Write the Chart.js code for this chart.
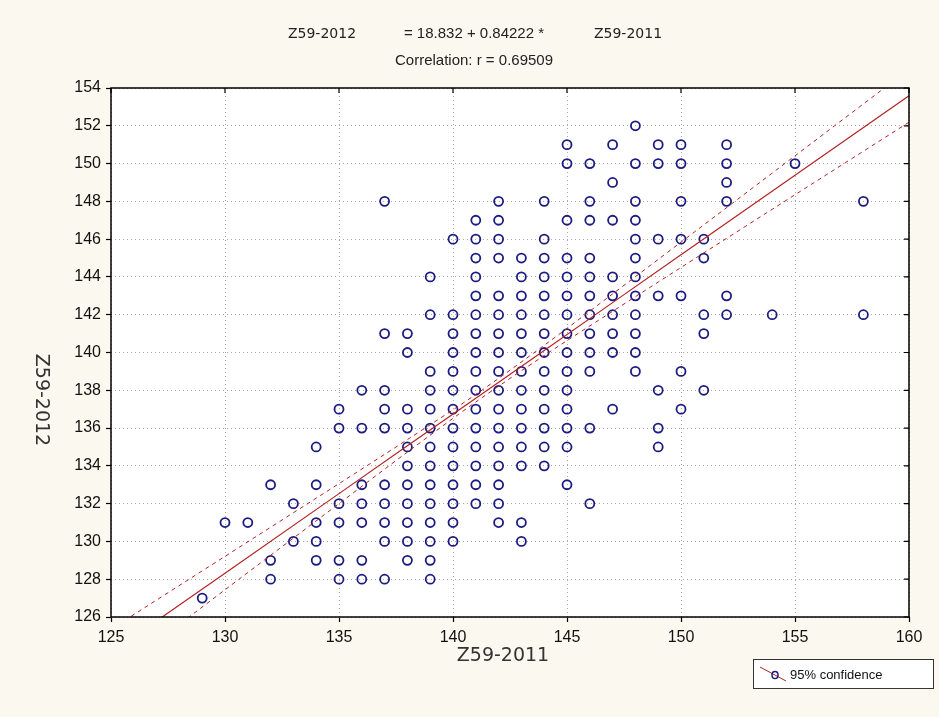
<!DOCTYPE html>
<html>
<head>
<meta charset="utf-8">
<script src="https://cdn.jsdelivr.net/npm/chart.js@4.4.1/dist/chart.umd.min.js"></script>
<style>
  html, body { margin: 0; padding: 0; background: #fbf9ef; }
  #wrap { width: 939px; height: 717px; }
</style>
</head>
<body>
<div id="wrap"><canvas id="scatterGraph" width="939" height="717"></canvas></div>
<script>
// observed values, grouped by Z59-2012 row
const rowY = [152, 151, 150, 149, 148, 147, 146, 145, 144, 143, 142, 141, 140,
              139, 138, 137, 136, 135, 134, 133, 132, 131, 130, 129, 128, 127];
const rowX = [
    [148],
    [145, 147, 149, 150, 152],
    [145, 146, 148, 149, 150, 152, 155],
    [147, 152],
    [137, 142, 144, 146, 148, 150, 152, 158],
    [141, 142, 145, 146, 147, 148],
    [140, 141, 142, 144, 148, 149, 150, 151],
    [141, 142, 143, 144, 145, 146, 148, 151],
    [139, 141, 143, 144, 145, 146, 147, 148],
    [141, 142, 143, 144, 145, 146, 147, 148, 149, 150, 152],
    [139, 140, 141, 142, 143, 144, 145, 146, 147, 148, 151, 152, 154, 158],
    [137, 138, 140, 141, 142, 143, 144, 145, 146, 147, 148, 151],
    [138, 140, 141, 142, 143, 144, 145, 146, 147, 148],
    [139, 140, 141, 142, 143, 144, 145, 146, 148, 150],
    [136, 137, 139, 140, 141, 142, 143, 144, 145, 149, 151],
    [135, 137, 138, 139, 140, 141, 142, 143, 144, 145, 147, 150],
    [135, 136, 137, 138, 139, 140, 141, 142, 143, 144, 145, 146, 149],
    [134, 138, 139, 140, 141, 142, 143, 144, 145, 149],
    [138, 139, 140, 141, 142, 143, 144],
    [132, 134, 136, 137, 138, 139, 140, 141, 142, 145],
    [133, 135, 136, 137, 138, 139, 140, 141, 142, 146],
    [130, 131, 134, 135, 136, 137, 138, 139, 140, 142, 143],
    [133, 134, 137, 138, 139, 140, 143],
    [132, 134, 135, 136, 138, 139],
    [132, 135, 136, 137, 139],
    [129]
];

// regression line and 95% confidence band, read at these x positions
const fitX = [125, 130, 135, 138, 141, 144, 147, 150, 155, 160];
const fitY = [124.11, 128.32, 132.53, 135.06, 137.58, 140.11, 142.64, 145.17, 149.38, 153.59];
const upperY = [125.36, 129.21, 133.06, 135.39, 137.78, 140.38, 143.10, 145.84, 150.41, 154.99];
const lowerY = [122.86, 127.44, 132.00, 134.73, 137.38, 139.84, 142.18, 144.50, 148.35, 152.19];

const xTicks = [125, 130, 135, 140, 145, 150, 155, 160];
const yTicks = [126, 128, 130, 132, 134, 136, 138, 140, 142, 144, 146, 148, 150, 152, 154];

const titleLine1 = ['Z59-2012', '= 18.832 + 0.84222 *', 'Z59-2011'];
const titleLine2 = 'Correlation: r = 0.69509';
const xTitle = 'Z59-2011';
const yTitle = 'Z59-2012';

function toPoints(xs, ys) {
    return xs.map((x, i) => ({ x: x, y: ys[i] }));
}

const observations = [];
rowY.forEach((y, i) => {
    rowX[i].forEach(x => observations.push({ x: x, y: y }));
});

const decorPlugin = {
    id: 'decor',
    beforeDraw(chart) {
        const ctx = chart.ctx;
        const a = chart.chartArea;
        ctx.save();
        ctx.fillStyle = '#fbf9ef';
        ctx.fillRect(0, 0, chart.width, chart.height);
        ctx.fillStyle = '#ffffff';
        ctx.fillRect(a.left, a.top, a.right - a.left, a.bottom - a.top);
        ctx.restore();
    },
    afterDraw(chart) {
        const ctx = chart.ctx;
        const a = chart.chartArea;
        const xs = chart.scales.x;
        const ys = chart.scales.y;
        ctx.save();
        // frame
        ctx.strokeStyle = '#000';
        ctx.lineWidth = 1.5;
        ctx.strokeRect(a.left, a.top, a.right - a.left, a.bottom - a.top);
        // inner ticks on top and right edges
        ctx.lineWidth = 1.2;
        ctx.beginPath();
        xTicks.forEach(v => {
            const px = xs.getPixelForValue(v);
            ctx.moveTo(px, a.top);
            ctx.lineTo(px, a.top + 5);
        });
        yTicks.forEach(v => {
            const py = ys.getPixelForValue(v);
            ctx.moveTo(a.right, py);
            ctx.lineTo(a.right - 5, py);
        });
        ctx.stroke();

        // title
        ctx.fillStyle = '#222';
        ctx.textAlign = 'center';
        ctx.textBaseline = 'middle';
        ctx.font = '14px "DejaVu Sans", sans-serif';
        ctx.fillText(titleLine1[0], 322, 34);
        ctx.fillText(titleLine1[2], 628, 34);
        ctx.font = '15px "Liberation Sans", Arial, sans-serif';
        ctx.fillText(titleLine1[1], 474, 34);
        ctx.fillText(titleLine2, 474, 61);

        // axis titles
        ctx.fillStyle = '#333';
        ctx.font = '19px "DejaVu Sans", sans-serif';
        ctx.fillText(xTitle, 503, 656);
        ctx.save();
        ctx.translate(41, 400);
        ctx.rotate(Math.PI / 2);
        ctx.fillText(yTitle, 0, 0);
        ctx.restore();

        // legend box
        ctx.fillStyle = '#ffffff';
        ctx.fillRect(753, 659, 180, 29);
        ctx.strokeStyle = '#333';
        ctx.lineWidth = 1;
        ctx.strokeRect(753.5, 659.5, 180, 29);
        ctx.strokeStyle = '#b22222';
        ctx.beginPath();
        ctx.moveTo(760, 667);
        ctx.lineTo(786, 681);
        ctx.stroke();
        ctx.strokeStyle = '#1c1c80';
        ctx.lineWidth = 1.5;
        ctx.beginPath();
        ctx.ellipse(775, 675, 3, 3.6, 0, 0, Math.PI * 2);
        ctx.stroke();
        ctx.fillStyle = '#111';
        ctx.textAlign = 'left';
        ctx.font = '13px "Liberation Sans", Arial, sans-serif';
        ctx.fillText('95% confidence', 790, 675);
        ctx.restore();
    }
};

function renderScatterChart() {
    const ctx = document.getElementById('scatterGraph').getContext('2d');
    new Chart(ctx, {
        type: 'scatter',
        data: {
            datasets: [{
                type: 'line',
                label: 'fit',
                data: toPoints(fitX, fitY),
                borderColor: '#b52222',
                borderWidth: 1.2,
                pointRadius: 0,
                tension: 0,
                order: 0
            }, {
                type: 'line',
                label: 'upper 95%',
                data: toPoints(fitX, upperY),
                borderColor: '#b52222',
                borderWidth: 1,
                borderDash: [4, 4],
                pointRadius: 0,
                tension: 0.3,
                order: 0
            }, {
                type: 'line',
                label: 'lower 95%',
                data: toPoints(fitX, lowerY),
                borderColor: '#b52222',
                borderWidth: 1,
                borderDash: [4, 4],
                pointRadius: 0,
                tension: 0.3,
                order: 0
            }, {
                label: 'observations',
                data: observations,
                pointStyle: 'circle',
                pointRadius: 4.5,
                borderWidth: 1.8,
                borderColor: '#1c1c80',
                backgroundColor: 'rgba(0,0,0,0)',
                order: 1
            }]
        },
        options: {
            responsive: false,
            animation: false,
            layout: {
                padding: { top: 88, right: 30, left: 0, bottom: 0 }
            },
            scales: {
                x: {
                    type: 'linear',
                    min: 125,
                    max: 160,
                    afterFit: scale => { scale.height = 100; },
                    afterBuildTicks: scale => { scale.ticks = xTicks.map(v => ({ value: v })); },
                    ticks: {
                        color: '#111',
                        padding: 6,
                        font: { family: '"Liberation Sans", Arial, sans-serif', size: 16 }
                    },
                    grid: {
                        color: '#a8a8a8',
                        lineWidth: 1,
                        tickLength: 5,
                        tickColor: '#000',
                        tickWidth: 1.2
                    },
                    border: { display: false, dash: [1, 3] }
                },
                y: {
                    type: 'linear',
                    min: 126,
                    max: 154,
                    afterFit: scale => { scale.width = 111; },
                    afterBuildTicks: scale => { scale.ticks = yTicks.map(v => ({ value: v })); },
                    ticks: {
                        color: '#111',
                        padding: 5,
                        font: { family: '"Liberation Sans", Arial, sans-serif', size: 16 }
                    },
                    grid: {
                        color: '#a8a8a8',
                        lineWidth: 1,
                        tickLength: 5,
                        tickColor: '#000',
                        tickWidth: 1.2
                    },
                    border: { display: false, dash: [1, 3] }
                }
            },
            plugins: {
                legend: { display: false },
                tooltip: { enabled: false }
            }
        },
        plugins: [decorPlugin]
    });
}

document.addEventListener('DOMContentLoaded', renderScatterChart);
</script>
</body>
</html>
